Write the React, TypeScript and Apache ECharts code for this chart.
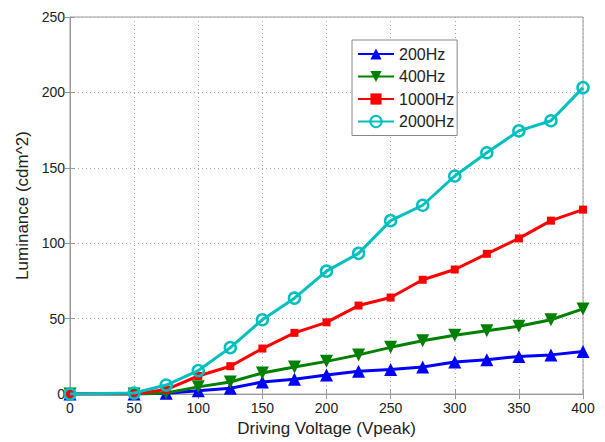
import React, { useEffect, useRef } from "react";
import * as echarts from "echarts";

const voltages = [0, 50, 75, 100, 125, 150, 175, 200, 225, 250, 275, 300, 325, 350, 375, 400];
const hz200 = [0, 0, 0.5, 2.2, 3.9, 8, 9.8, 12.6, 15.2, 16.3, 18, 21.3, 22.8, 25, 26, 28.2];
const hz400 = [0, 0, 0.7, 4.8, 8, 14, 18, 21.7, 26, 31, 35.4, 39, 42, 45, 49.3, 56.5];
const hz1000 = [0, 0, 3, 12, 18.5, 30.2, 40.6, 47.6, 58.7, 64, 75.8, 82.6, 93, 103.2, 115, 122.3];
const hz2000 = [0, 0.7, 6, 15.6, 30.8, 49.3, 63.6, 81.5, 93.3, 115, 125.2, 144.6, 160, 174.5, 181.2, 203.2];
const seriesNames = ["200Hz", "400Hz", "1000Hz", "2000Hz"];
const xLabel = "Driving Voltage (Vpeak)";
const yLabel = "Luminance (cdm^2)";

const FONT = "'Liberation Sans', Arial, sans-serif";

export default function App() {
  const ref = useRef<HTMLDivElement>(null);
  useEffect(() => {
    document.body.style.margin = "0";
    if (!ref.current) return;
    const chart = echarts.init(ref.current, undefined, { renderer: "svg" });
    const pair = (arr: number[]) => voltages.map((v, i) => [v, arr[i]]);
    const axisColor = "#9a9a9a";
    const gridLine = { show: true, lineStyle: { type: [1, 3], color: "#a8a8a8", width: 1 } };
    const tickLabel = { color: "#222", fontSize: 14, fontFamily: FONT };
    chart.setOption({
      animation: false,
      backgroundColor: "#fff",
      grid: {
        left: 70,
        right: 22,
        top: 17,
        bottom: 40,
        show: true,
        borderColor: axisColor,
        borderWidth: 1,
        backgroundColor: "transparent",
      },
      legend: {
        orient: "vertical",
        left: 352,
        top: 40,
        itemWidth: 36,
        itemHeight: 14,
        itemGap: 6.5,
        padding: [6, 3, 6, 5],
        backgroundColor: "#fff",
        borderColor: "#888",
        borderWidth: 1,
        textStyle: { fontSize: 16, fontFamily: FONT, color: "#222", lineHeight: 16 },
        data: seriesNames,
      },
      xAxis: [
        {
          type: "value",
          min: 0,
          max: 400,
          interval: 50,
          name: xLabel,
          nameLocation: "middle",
          nameGap: 19,
          nameTextStyle: { fontSize: 17, fontFamily: FONT, color: "#222" },
          axisLine: { onZero: false, lineStyle: { color: axisColor } },
          axisTick: { inside: true, length: 5, lineStyle: { color: axisColor } },
          axisLabel: { ...tickLabel, margin: 7 },
          splitLine: gridLine,
        },
        {
          type: "value",
          position: "top",
          min: 0,
          max: 400,
          interval: 50,
          axisLine: { show: false },
          axisTick: { inside: true, length: 5, lineStyle: { color: axisColor } },
          axisLabel: { show: false },
          splitLine: { show: false },
        },
      ],
      yAxis: [
        {
          type: "value",
          min: 0,
          max: 250,
          interval: 50,
          name: yLabel,
          nameLocation: "middle",
          nameGap: 38,
          nameTextStyle: { fontSize: 17, fontFamily: FONT, color: "#222" },
          axisLine: { show: true, onZero: false, lineStyle: { color: axisColor } },
          axisTick: { show: true, inside: true, length: 5, lineStyle: { color: axisColor } },
          axisLabel: { ...tickLabel, margin: 5 },
          splitLine: gridLine,
        },
        {
          type: "value",
          position: "right",
          min: 0,
          max: 250,
          interval: 50,
          axisLine: { show: false },
          axisTick: { show: true, inside: true, length: 5, lineStyle: { color: axisColor } },
          axisLabel: { show: false },
          splitLine: { show: false },
        },
      ],
      series: [
        {
          name: seriesNames[0],
          type: "line",
          data: pair(hz200),
          symbol: "triangle",
          symbolSize: 13,
          lineStyle: { color: "#0000ff", width: 3 },
          itemStyle: { color: "#0000ff" },
          z: 2,
        },
        {
          name: seriesNames[1],
          type: "line",
          data: pair(hz400),
          symbol: "triangle",
          symbolRotate: 180,
          symbolSize: 13,
          lineStyle: { color: "#008000", width: 3 },
          itemStyle: { color: "#008000" },
          z: 3,
        },
        {
          name: seriesNames[2],
          type: "line",
          data: pair(hz1000),
          symbol: "rect",
          symbolSize: 8,
          lineStyle: { color: "#ff0000", width: 3 },
          itemStyle: { color: "#ff0000" },
          z: 4,
        },
        {
          name: seriesNames[3],
          type: "line",
          data: pair(hz2000),
          symbol: "circle",
          symbolSize: 11,
          lineStyle: { color: "#00bfbf", width: 3 },
          itemStyle: { color: "rgba(0,0,0,0)", borderColor: "#00bfbf", borderWidth: 2.5 },
          z: 5,
        },
      ],
    });
    return () => chart.dispose();
  }, []);
  return <div ref={ref} style={{ width: 605, height: 442 }} />;
}
